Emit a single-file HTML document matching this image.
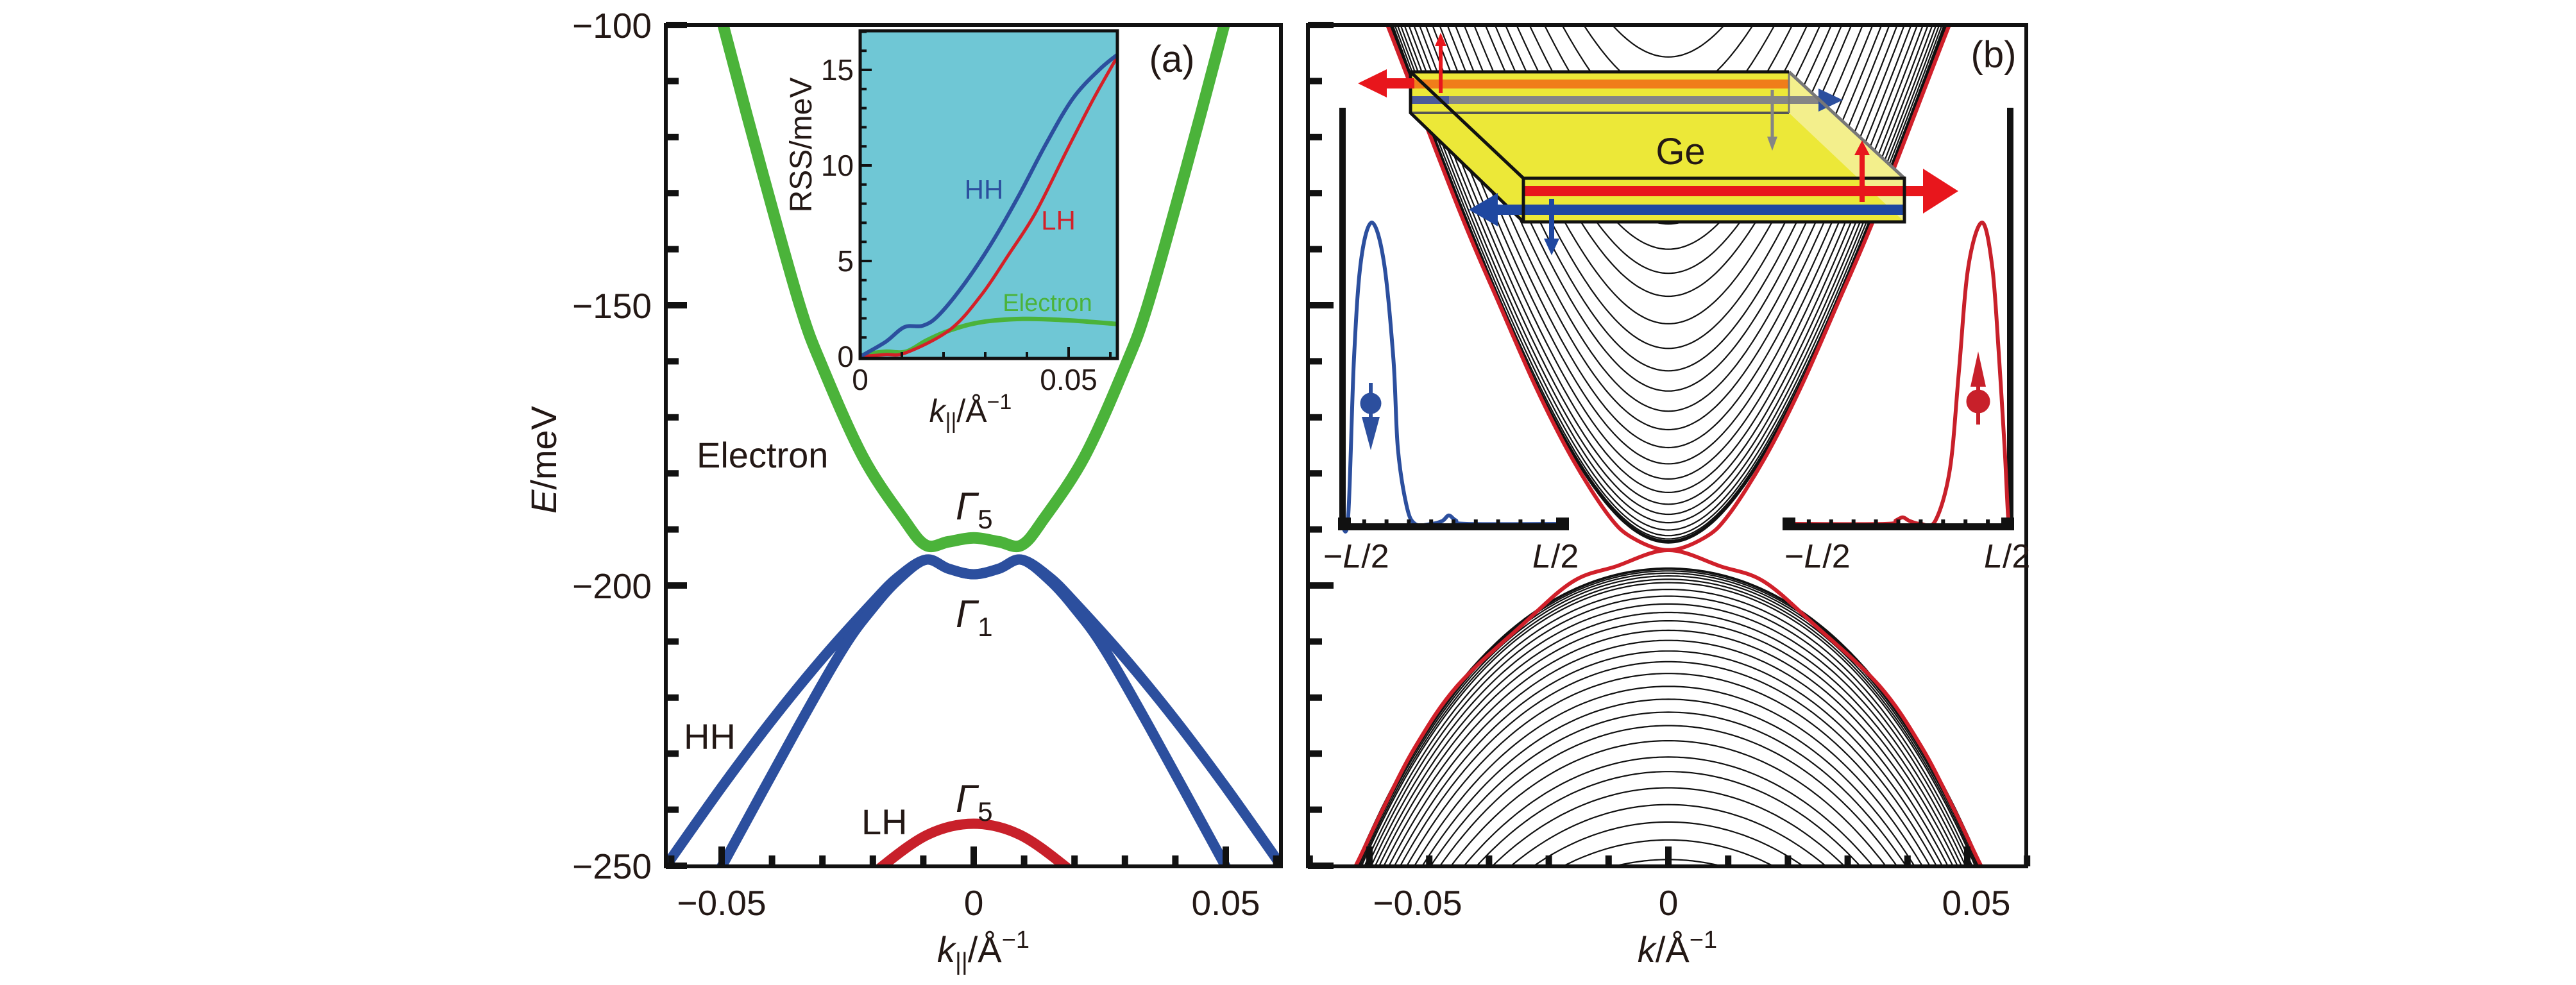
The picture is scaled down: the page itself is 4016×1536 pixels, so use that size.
<!DOCTYPE html>
<html><head><meta charset="utf-8"><style>
html,body{margin:0;padding:0;background:#fff;overflow:hidden;width:4016px;height:1536px;}
svg{display:block;position:absolute;left:0;top:0;}
text{font-family:"Liberation Sans",sans-serif;fill:#231815;}
</style></head><body>
<svg id="fig" xmlns="http://www.w3.org/2000/svg" width="4016" height="1536" viewBox="0 0 4016 1536">
<defs>
<clipPath id="clipL"><rect x="1038" y="39" width="959" height="1312"/></clipPath>
<clipPath id="clipR"><rect x="2039" y="39" width="1120" height="1312"/></clipPath>
<clipPath id="clipI"><rect x="1341" y="48" width="401" height="511"/></clipPath>
</defs>
<g id="left"></g>
<g id="right"></g>
</svg>
<script>
// ---------- Panel (a) main band data (positive-k half; mirrored) ----------
const kElectron = [0,0.005,0.0095,0.014,0.022,0.030,0.0345,0.042,0.0497,0.053];
const eElectron = [-191.5,-192.2,-192.8,-188,-177,-161,-150,-126,-100,-88];
const kHHouter = [0,0.005,0.0095,0.015,0.02,0.03,0.04,0.05,0.061,0.064];
const eHHouter = [-198,-197,-195.4,-198.5,-203,-213,-224,-236,-250,-254];
const kHHinner = [0,0.005,0.0095,0.015,0.02,0.0257,0.035,0.0499,0.053];
const eHHinner = [-198,-197,-195.4,-199,-204,-211,-225.5,-250,-255];
const kLH = [0,0.009,0.018,0.022];
const eLH = [-242.5,-244.4,-250,-253.5];
const yTicksMajor = [-100,-150,-200,-250];
const yTickLabels = ["\u2212100","\u2212150","\u2212200","\u2212250"];
const xTicksMajor = [-0.05,0,0.05];
const xTickLabels = ["\u22120.05","0","0.05"];
// ---------- Inset (RSS) data ----------
const kInsHH = [0,0.0061,0.0106,0.0151,0.019,0.0253,0.0317,0.038,0.0445,0.051,0.0573,0.0617];
const vInsHH = [0,0.77,1.54,1.62,2.2,3.9,6.0,8.4,11.1,13.5,15.0,15.8];
const kInsLH = [0,0.006,0.011,0.0215,0.029,0.0355,0.042,0.0496,0.056,0.0617];
const vInsLH = [0,0.1,0.2,1.4,3.2,5.3,7.5,10.8,13.5,15.7];
const kInsEl = [0,0.001,0.006,0.011,0.016,0.0215,0.029,0.039,0.0496,0.0617];
const vInsEl = [0,0.1,0.25,0.25,0.85,1.37,1.8,1.97,1.9,1.7];
const insYTicks = [0,5,10,15];
const insXTicks = [0,0.05];
const insXTickLabels = ["0","0.05"];
// ---------- Panel (b) data ----------
const condMin = [-105.7,-112.5,-119,-125,-130.5,-135.5,-140,-144.3,-148.4,-153.3,-157.7,-161.7,-165.3,-168.9,-172.2,-175.4,-178.3,-181.0,-183.4,-185.5,-187.3,-188.8,-190.1,-191.1,-191.7,-192.0,-192.2,-192.4];
const valMax = [-196.9,-197.1,-197.4,-197.8,-198.3,-198.9,-199.5,-200.7,-201.9,-203.3,-204.8,-206.3,-208.0,-209.8,-211.7,-213.6,-215.7,-218.0,-220.3,-222.6,-225.0,-227.7,-230.6,-233.2,-236.1,-239.1,-242.2,-245.4,-248.9,-252.5];
const kEdgeUp = [0,0.006,0.01,0.016,0.022,0.0282,0.035,0.047,0.051];
const eEdgeUp = [-193.7,-191.5,-187.5,-177.5,-165,-150,-133,-100,-90];
const kEdgeDn = [0,0.0088,0.016,0.0243,0.0353,0.0424,0.0478,0.0523,0.056];
const eEdgeDn = [-193.7,-196.6,-199.3,-206.9,-217.9,-228.9,-240,-250,-257];
// subband dispersion shape (model constants)
const condGap = 80, condVel = 3280, valC2 = 14594, valC4 = 1.749e6;
const rTicksMajor = [-0.05,0,0.05];
const rTickLabels = ["\u22120.05","0","0.05"];
// wavefunctions (position u in units of L, probability normalized)
const uBlue = [-0.5,-0.472,-0.446,-0.415,-0.366,-0.312,-0.269,-0.249,-0.21,-0.172,-0.1,-0.05,-0.021,0.01,0.06,0.5];
const psiBlue = [0,0.02,0.545,0.87,1.0,0.87,0.545,0.25,0.06,0,0,0.01,0.028,0.012,0,0];
const uRed = [-0.5,-0.06,-0.01,0.02,0.05,0.1,0.165,0.23,0.27,0.312,0.374,0.42,0.45,0.475,0.49,0.5];
const psiRed = [0,0,0.012,0.022,0.01,0,0.01,0.18,0.5,0.85,1.0,0.85,0.55,0.25,0.03,0];

const NS = "http://www.w3.org/2000/svg";
function mk(tag, attrs, parent){const e=document.createElementNS(NS,tag);for(const a in attrs)e.setAttribute(a,attrs[a]);if(parent)parent.appendChild(e);return e;}
function yE(E){return 39+(-100-E)*8.74;}
function xL(k){return 1518+k*7860;}
function xR(k){return 2601+k*9320;}
function xI(k){return 1341+k*6500;}
function yI(v){return 556-v*29.8;}
function crPath(p){
  let d="M"+p[0][0].toFixed(1)+","+p[0][1].toFixed(1);
  for(let i=0;i<p.length-1;i++){
    const p0=p[i-1]||p[i],p1=p[i],p2=p[i+1],p3=p[i+2]||p[i+1];
    const c1=[p1[0]+(p2[0]-p0[0])/6,p1[1]+(p2[1]-p0[1])/6];
    const c2=[p2[0]-(p3[0]-p1[0])/6,p2[1]-(p3[1]-p1[1])/6];
    d+="C"+c1[0].toFixed(1)+","+c1[1].toFixed(1)+" "+c2[0].toFixed(1)+","+c2[1].toFixed(1)+" "+p2[0].toFixed(1)+","+p2[1].toFixed(1);
  }
  return d;
}
function mirrorPts(ks,es,fx){
  const pts=[];
  for(let i=ks.length-1;i>0;i--)pts.push([fx(-ks[i]),yE(es[i])]);
  for(let i=0;i<ks.length;i++)pts.push([fx(ks[i]),yE(es[i])]);
  return pts;
}
function txt(parent,x,y,s,size,anchor,extra){
  const t=mk("text",Object.assign({x:x,y:y,"font-size":size,"text-anchor":anchor||"start"},extra||{}),parent);
  t.textContent=s;return t;
}

// ================= PANEL A =================
const L=document.getElementById("left");
const gA=mk("g",{"clip-path":"url(#clipL)"},L);
const bandsA=[
 [kElectron,eElectron,"#4bb33a",18,"electron-band"],
 [kHHouter,eHHouter,"#2c4f9e",16,"hh-band-outer"],
 [kHHinner,eHHinner,"#2c4f9e",16,"hh-band-inner"],
 [kLH,eLH,"#c8202a",16,"lh-band"]];
bandsA.forEach(b=>{
  const p=mk("path",{d:crPath(mirrorPts(b[0],b[1],xL)),fill:"none",stroke:b[2],"stroke-width":b[3]},gA);
  
  
});
const frA=mk("rect",{x:1038,y:39,width:959,height:1312,fill:"none",stroke:"#111","stroke-width":6},L);


for(let E=-250;E<=-100;E+=10){
  const major=(E%50===0);
  const t=mk("rect",{x:1038,y:yE(E)-5,width:major?33:20,height:10,fill:"#111"},L);
  
  
}
yTicksMajor.forEach((E,i)=>{
  const t=txt(L,1016,yE(E)+20,yTickLabels[i],55,"end");
  
  
});
for(let i=-6;i<=6;i++){
  const k=i*0.01;const major=(i%5===0);
  const t=mk("rect",{x:xL(k)-5,y:1351-(major?31:17),width:10,height:major?31:17,fill:"#111"},L);
  
  
}
xTicksMajor.forEach((k,i)=>{
  const t=txt(L,xL(k),1427,xTickLabels[i],55,"middle");
  
  
});
const yl=mk("text",{x:0,y:0,"font-size":56,"text-anchor":"middle",transform:"translate(867,717) rotate(-90)"},L);
yl.innerHTML='<tspan font-style="italic">E</tspan>/meV';


const xl=mk("text",{x:1533,y:1500,"font-size":56,"text-anchor":"middle"},L);
xl.innerHTML='<tspan font-style="italic">k</tspan><tspan font-size="38" dy="12">||</tspan><tspan dy="-12">/Å</tspan><tspan font-size="38" dy="-22">−1</tspan>';


[["Electron",1086,729,"electron-label"],["HH",1066,1168,"hh-label"],["LH",1343,1301,"lh-label"]].forEach(a=>{
  const t=txt(L,a[1],a[2],a[0],56,"start");
  
  
});
[["5",1490,810,"gamma5-upper-label"],["1",1490,978,"gamma1-label"],["5",1490,1266,"gamma5-lower-label"]].forEach(a=>{
  const t=mk("text",{x:a[1],y:a[2],"font-size":60},L);
  t.innerHTML='<tspan font-style="italic">Γ</tspan><tspan font-size="42" dy="14">'+a[0]+'</tspan>';
  
  
});
const pa=txt(L,1827,112,"(a)",58,"middle",{"font-family":"Liberation Serif, serif"});



// ---------- inset ----------
const gI=mk("g",{},L);


mk("rect",{x:1341,y:48,width:401,height:511,fill:"#6fc7d5"},gI);
const gIc=mk("g",{"clip-path":"url(#clipI)"},gI);
[[kInsEl,vInsEl,"#4bb33a",7,"rss-electron-line"],[kInsLH,vInsLH,"#d42028",5,"rss-lh-line"],[kInsHH,vInsHH,"#2c4f9e",6,"rss-hh-line"]].forEach(s=>{
  const pts=s[0].map((k,i)=>[xI(k),yI(s[1][i])]);
  const p=mk("path",{d:crPath(pts),fill:"none",stroke:s[2],"stroke-width":s[3]},gIc);
  
  
});
mk("rect",{x:1341,y:48,width:401,height:511,fill:"none",stroke:"#111","stroke-width":5},gI);
for(let v=1;v<=17;v++){
  const t=mk("rect",{x:1341,y:yI(v)-2,width:(v%5===0)?18:10,height:4,fill:"#111"},gI);
  
  
}
for(let i=1;i<=6;i++){
  const t=mk("rect",{x:xI(i*0.01)-2,y:559-((i%5===0)?18:10),width:4,height:(i%5===0)?18:10,fill:"#111"},gI);
  
  
}
insYTicks.forEach(v=>{
  const t=txt(gI,1331,yI(v)+16,String(v),46,"end");
  
  
});
insXTicks.forEach((k,i)=>{
  const t=txt(gI,xI(k),608,insXTickLabels[i],46,"middle");
  
  
});
const iyl=mk("text",{x:0,y:0,"font-size":48,"text-anchor":"middle",transform:"translate(1265,226) rotate(-90)"},gI);
iyl.textContent="RSS/meV";


const ixl=mk("text",{x:1513,y:658,"font-size":50,"text-anchor":"middle"},gI);
ixl.innerHTML='<tspan font-style="italic">k</tspan><tspan font-size="34" dy="10">||</tspan><tspan dy="-10">/Å</tspan><tspan font-size="34" dy="-20">−1</tspan>';


[["HH",1534,310,"#2c4f9e","inset-hh-label"],["LH",1650,358,"#d42028","inset-lh-label"],["Electron",1633,485,"#4bb33a","inset-electron-label"]].forEach(a=>{
  const t=txt(gI,a[1],a[2],a[0],a[0]==="Electron"?38:42,"middle",{style:"fill:"+a[3]});
  
  
});

// ================= PANEL B =================
const R=document.getElementById("right");
const gB=mk("g",{"clip-path":"url(#clipR)"},R);
function linePts(fn){const pts=[];for(let i=-124;i<=124;i++){const k=i*0.0005;pts.push(xR(k).toFixed(1)+","+yE(fn(k)).toFixed(1));}return pts.join(" ");}
function condRise(k){return Math.sqrt(condGap*condGap+(condVel*k)**2)-condGap;}
function valDrop(k){return valC2*k*k+valC4*k*k*k*k;}
condMin.forEach(Em=>{
  const p=mk("polyline",{points:linePts(k=>Em+condRise(k)),fill:"none",stroke:"#111","stroke-width":2.2},gB);
  
  
});
valMax.forEach(Em=>{
  const p=mk("polyline",{points:linePts(k=>Em-valDrop(k)),fill:"none",stroke:"#111","stroke-width":2.2},gB);
  
  
});
[[kEdgeUp,eEdgeUp,"edge-state-upper"],[kEdgeDn,eEdgeDn,"edge-state-lower"]].forEach(s=>{
  const p=mk("path",{d:crPath(mirrorPts(s[0],s[1],xR)),fill:"none",stroke:"#d0202a","stroke-width":6},gB);
  
  
});
const frB=mk("rect",{x:2039,y:39,width:1120,height:1312,fill:"none",stroke:"#111","stroke-width":6},R);


for(let E=-250;E<=-100;E+=10){
  const major=(E%50===0);
  const t=mk("rect",{x:2039,y:yE(E)-5,width:major?40:22,height:10,fill:"#111"},R);
  
  
}
for(let i=-6;i<=6;i++){
  const k=i*0.01;const major=(i%5===0);
  const t=mk("rect",{x:xR(k)-5,y:1351-(major?31:17),width:10,height:major?31:17,fill:"#111"},R);
  
  
}
const rLabelShift=[75,0,14];
rTicksMajor.forEach((k,i)=>{
  const t=txt(R,xR(k)+rLabelShift[i],1427,rTickLabels[i],55,"middle");
  
  
});
const xlb=mk("text",{x:2615,y:1500,"font-size":56,"text-anchor":"middle"},R);
xlb.innerHTML='<tspan font-style="italic">k</tspan>/Å<tspan font-size="38" dy="-22">−1</tspan>';


const pb=txt(R,3108,105,"(b)",58,"middle",{"font-family":"Liberation Serif, serif"});



// ---------- wavefunction insets ----------
function waveInset(x0,x1,us,ps,color,wallX,name){
  const g=mk("g",{},R);
  
  
  const w=x1-x0;
  mk("rect",{x:wallX-5,y:168,width:10,height:655,fill:"#111"},g);
  const pts=us.map((u,i)=>[x0+(u+0.5)*w,817-ps[i]*470]);
  const p=mk("path",{d:crPath(pts),fill:"none",stroke:color,"stroke-width":6},g);
  
  
  mk("rect",{x:x0-6,y:816,width:w+12,height:11,fill:"#111"},g);
  mk("rect",{x:x0-6,y:807,width:20,height:20,fill:"#111"},g);
  mk("rect",{x:x1-14,y:807,width:20,height:20,fill:"#111"},g);
  for(let i=1;i<10;i++)mk("rect",{x:x0+i*w/10-3,y:810,width:6,height:7,fill:"#111"},g);
  return g;
}
waveInset(2092,2440,uBlue,psiBlue,"#2c4f9e",2093,"wavefunction-inset-left");
waveInset(2785,3134,uRed,psiRed,"#c8202a",3134,"wavefunction-inset-right");
const sb=mk("g",{fill:"#2c4f9e",stroke:"#2c4f9e"},R);


mk("line",{x1:2137,y1:597,x2:2137,y2:660,"stroke-width":6},sb);
mk("circle",{cx:2137,cy:629,r:16},sb);
mk("polygon",{points:"2123,650 2151,650 2137,702",stroke:"none"},sb);
const sr=mk("g",{fill:"#c8202a",stroke:"#c8202a"},R);


mk("line",{x1:3084,y1:590,x2:3084,y2:662,"stroke-width":6},sr);
mk("circle",{cx:3084,cy:626,r:18},sr);
mk("polygon",{points:"3072,603 3096,603 3084,548",stroke:"none"},sr);
[["−","L","/2",2063,"left-minus-l-half"],["","L","/2",2389,"left-l-half"],["−","L","/2",2782,"right-minus-l-half"],["","L","/2",3093,"right-l-half"]].forEach(a=>{
  const t=mk("text",{x:a[3],y:885,"font-size":52},R);
  t.innerHTML=a[0]+'<tspan font-style="italic">'+a[1]+'</tspan>'+a[2];
  
  
});

// ---------- Ge slab schematic ----------
const gs=mk("g",{},R);


mk("polygon",{points:"2199,112 2789,112 2969,278 2969,346 2375,346 2199,176",fill:"#ece838"},gs);
mk("polygon",{points:"2789,112 2969,278 2969,346 2789,176",fill:"#f3ef8c"},gs);
mk("rect",{x:2199,y:124,width:590,height:14,fill:"#f07d1a"},gs);
mk("rect",{x:2199,y:150,width:640,height:12,fill:"#858585"},gs);
mk("rect",{x:2199,y:150,width:60,height:12,fill:"#4b5a9a"},gs);
mk("polygon",{points:"2835,138 2873,156 2835,174",fill:"#2c4f9e"},gs);
mk("line",{x1:2199,y1:176,x2:2789,y2:176,stroke:"#555","stroke-width":4},gs);
mk("line",{x1:2199,y1:112,x2:2375,y2:278,stroke:"#3a3a20","stroke-width":5,opacity:0.8},gs);
mk("line",{x1:2789,y1:112,x2:2969,y2:278,stroke:"#777","stroke-width":5},gs);
mk("line",{x1:2789,y1:112,x2:2789,y2:176,stroke:"#777","stroke-width":3},gs);
mk("polyline",{points:"2375,278 2199,112 2789,112",fill:"none",stroke:"#111","stroke-width":5},gs);
mk("polyline",{points:"2199,112 2199,176 2375,346",fill:"none",stroke:"#111","stroke-width":5},gs);
mk("rect",{x:2375,y:290,width:625,height:16,fill:"#e8161c"},gs);
mk("polygon",{points:"2998,263 3053,298 2998,333",fill:"#e8161c"},gs);
mk("rect",{x:2330,y:319,width:639,height:16,fill:"#1f47a0"},gs);
mk("polygon",{points:"2335,301 2290,327 2335,353",fill:"#1f47a0"},gs);
mk("rect",{x:2375,y:278,width:594,height:68,fill:"none",stroke:"#111","stroke-width":5},gs);
mk("rect",{x:2160,y:122,width:45,height:16,fill:"#e8161c"},gs);
mk("polygon",{points:"2162,108 2117,130 2162,152",fill:"#e8161c"},gs);
mk("line",{x1:2246,y1:145,x2:2246,y2:70,stroke:"#e8161c","stroke-width":6},gs);
mk("polygon",{points:"2237,72 2255,72 2246,51",fill:"#e8161c"},gs);
mk("line",{x1:2763,y1:140,x2:2763,y2:215,stroke:"#858585","stroke-width":5},gs);
mk("polygon",{points:"2755,213 2771,213 2763,235",fill:"#858585"},gs);
mk("line",{x1:2903,y1:315,x2:2903,y2:240,stroke:"#e8161c","stroke-width":8},gs);
mk("polygon",{points:"2891,242 2915,242 2903,219",fill:"#e8161c"},gs);
mk("line",{x1:2419,y1:310,x2:2419,y2:375,stroke:"#1f47a0","stroke-width":8},gs);
mk("polygon",{points:"2407,372 2431,372 2419,398",fill:"#1f47a0"},gs);
const ge=txt(gs,2620,256,"Ge",58,"middle");


</script>
</body></html>
